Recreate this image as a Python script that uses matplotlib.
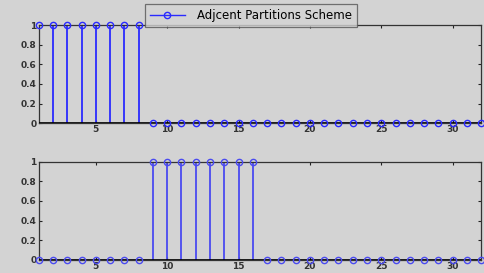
import matplotlib
matplotlib.use('Agg')
import matplotlib.pyplot as plt
from matplotlib.legend_handler import HandlerLine2D

# sample index and the two partition indicator sequences
n = list(range(1, 33))
top_vals = [1] * 8 + [0] * 24
bottom_vals = [0] * 8 + [1] * 8 + [0] * 16
x_ticks = [5, 10, 15, 20, 25, 30]
y_ticks = [0, 0.2, 0.4, 0.6, 0.8, 1]
y_ticklabels = ['0', '0.2', '0.4', '0.6', '0.8', '1']
legend_label = 'Adjcent Partitions Scheme'

BG = '#d3d3d3'
plt.rcParams['font.family'] = ['DejaVu Sans']


class RightMarker(HandlerLine2D):
    # MATLAB-style legend sample: marker sits near the right end of the line
    def get_xdata(self, legend, xdescent, ydescent, width, height, fontsize):
        xdata, _ = super().get_xdata(legend, xdescent, ydescent, width,
                                     height, fontsize)
        return xdata, [-xdescent + 0.85 * width]


fig = plt.figure(figsize=(4.85, 2.73), dpi=100, facecolor=BG)
ax1 = fig.add_axes([0.080, 0.549, 0.912, 0.359])
ax2 = fig.add_axes([0.080, 0.048, 0.912, 0.360])


def draw(ax, vals, color):
    ax.set_facecolor(BG)
    ml, sl, bl = ax.stem(n, vals, linefmt='-', markerfmt='o', basefmt='k-')
    plt.setp(sl, color=color, lw=1.3)
    plt.setp(ml, color=color, markerfacecolor='none', markersize=4.5, mew=1.0,
             clip_on=False, zorder=4)
    plt.setp(bl, color='black', lw=1.2, zorder=3)
    ax.set_xlim(1, 32)
    ax.set_ylim(0, 1)
    ax.set_xticks(x_ticks)
    ax.set_yticks(y_ticks)
    ax.set_yticklabels(y_ticklabels)
    ax.tick_params(direction='in', length=2.5, width=0.8, top=True, right=True,
                   labelsize=6.5, pad=1.5, colors='#222222')
    for s in ax.spines.values():
        s.set_color('#333333')
        s.set_linewidth(0.9)
    for lab in ax.get_xticklabels() + ax.get_yticklabels():
        lab.set_fontweight('bold')
        lab.set_color('#333333')


draw(ax1, top_vals, '#2a2aff')
draw(ax2, bottom_vals, '#4a4af0')

h = plt.Line2D([], [], color='#2a2aff', lw=1.0, marker='o',
               markerfacecolor='none', markersize=4.5)
leg = fig.legend([h], [legend_label], loc='upper center',
                 bbox_to_anchor=(0.517, 0.985), fontsize=8.5, frameon=True,
                 fancybox=False, handlelength=3.0, borderpad=0.4,
                 handletextpad=1.0, borderaxespad=0,
                 handler_map={h: RightMarker(numpoints=1)})
leg.get_frame().set_facecolor(BG)
leg.get_frame().set_edgecolor('#555555')
leg.get_frame().set_linewidth(0.9)

fig.savefig('out.png', dpi=100, facecolor=BG)
